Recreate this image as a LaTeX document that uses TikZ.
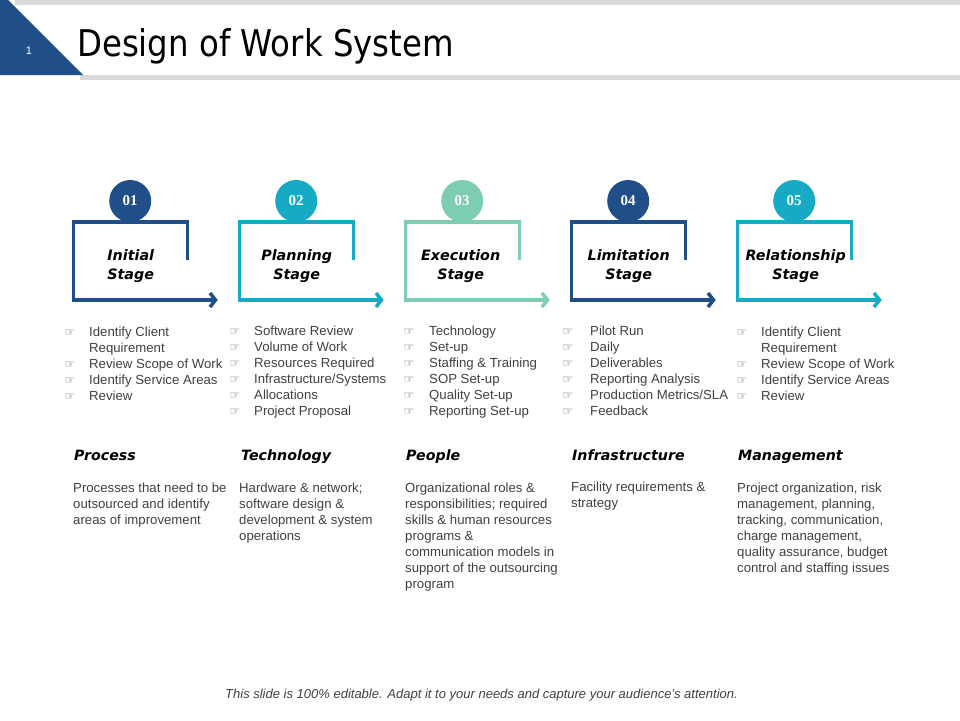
\documentclass[tikz,border=0pt]{standalone}
\usepackage{fontspec}
\setmainfont{Liberation Sans}
\newfontfamily\titlefont[FakeStretch=0.88]{DejaVu Sans}
\newfontfamily\stagefont{DejaVu Sans}
\newfontfamily\numfont{Liberation Serif}
\newfontfamily\iconfont{DejaVu Sans}
\usetikzlibrary{arrows.meta}
\definecolor{dblue}{RGB}{31,78,137}
\definecolor{cteal}{RGB}{23,170,197}
\definecolor{cmint}{RGB}{125,204,180}
\definecolor{txtgray}{RGB}{64,64,64}
\definecolor{bargray}{RGB}{217,217,217}
\definecolor{icongray}{RGB}{95,95,95}
\newcommand\bhand{\strut{\iconfont\fontsize{12}{12}\selectfont\char"261E}}
\tikzset{
  stagebox/.style={line width=3.5pt, line join=miter, line cap=butt, -{Straight Barb[length=5.5pt,width=14pt]}},
  numcirc/.style={circle, minimum size=42pt, inner sep=0pt, text=white, font=\numfont\bfseries\fontsize{15}{15}\selectfont},
  stagelabel/.style={align=center, anchor=north, inner sep=0pt, font=\stagefont\bfseries\itshape\fontsize{14.3}{19}\selectfont},
  bulltext/.style={align=left, anchor=north west, inner sep=0pt, text=txtgray, font=\fontsize{13.2}{16}\selectfont},
  bullicon/.style={align=center, anchor=north, inner sep=0pt, text=icongray, font=\fontsize{13.2}{16}\selectfont},
  heading/.style={anchor=base west, inner sep=0pt, font=\stagefont\bfseries\itshape\fontsize{14.2}{14}\selectfont},
}
\begin{document}
\begin{tikzpicture}[x=1pt,y=-1pt]
\useasboundingbox (0,0) rectangle (960,720);
% header
\fill[bargray] (15,0) rectangle (960,4.5);
\fill[bargray] (80,75) rectangle (960,80);
\fill[dblue] (0,0) -- (8,0) -- (83,75) -- (0,75) -- cycle;
\node[text=white, inner sep=0pt, font=\fontsize{11}{11}\selectfont] (pg) at (29,51) {1};
\node[anchor=base west, inner sep=0pt, font=\titlefont\fontsize{36.8}{40}\selectfont] (title) at (77,56) {Design of Work System};
% stages
\foreach \i/\col/\num/\lab/\dx in {0/dblue/01/{Initial\\Stage}/57, 1/cteal/02/{Planning\\Stage}/57, 2/cmint/03/{Execution\\Stage}/55, 3/dblue/04/{Limitation\\Stage}/57, 4/cteal/05/{Relationship\\Stage}/58}{
  \pgfmathsetmacro\L{73.7+166*\i}
  \draw[stagebox, draw=\col] ({\L+114},260) -- ({\L+114},222) -- (\L,222) -- (\L,300) -- ({\L+144},300);
  \node[numcirc, fill=\col] (c\i) at ({\L+56.5},201) {\num};
  \node[stagelabel] (s\i) at ({\L+\dx},246.7) {\strut\lab};
}
% bullets
\node[bullicon] (i1) at (70,325.3) {\bhand\\\strut\\\bhand\\\bhand\\\bhand};
\node[bulltext] (b1) at (89,325.3) {\strut Identify Client\\Requirement\\Review  Scope of Work\\Identify Service  Areas\\Review};
\node[bullicon] (i2) at (235,324.3) {\bhand\\\bhand\\\bhand\\\bhand\\\bhand\\\bhand};
\node[bulltext] (b2) at (254,324.3) {\strut Software  Review\\Volume of Work\\Resources Required\\Infrastructure/Systems\\Allocations\\Project Proposal};
\node[bullicon] (i3) at (409,324.3) {\bhand\\\bhand\\\bhand\\\bhand\\\bhand\\\bhand};
\node[bulltext] (b3) at (429,324.3) {\strut Technology\\Set-up\\Staffing \& Training\\SOP Set-up\\Quality Set-up\\Reporting  Set-up};
\node[bullicon] (i4) at (568,324.3) {\bhand\\\bhand\\\bhand\\\bhand\\\bhand\\\bhand};
\node[bulltext] (b4) at (590,324.3) {\strut Pilot Run\\Daily\\Deliverables\\Reporting  Analysis\\Production Metrics/SLA\\Feedback};
\node[bullicon] (i5) at (742,325.3) {\bhand\\\strut\\\bhand\\\bhand\\\bhand};
\node[bulltext] (b5) at (761,325.3) {\strut Identify Client\\Requirement\\Review  Scope of Work\\Identify Service  Areas\\Review};
% headings
\node[heading] (h1) at (74,460) {Process};
\node[heading] (h2) at (241,460) {Technology};
\node[heading] (h3) at (406,460) {People};
\node[heading] (h4) at (572,460) {Infrastructure};
\node[heading] (h5) at (738,460) {Management};
% descriptions
\node[bulltext] (d1) at (73,481.3) {\strut Processes that need to be\\outsourced and identify\\areas of improvement};
\node[bulltext] (d2) at (239,481.3) {\strut Hardware  \& network;\\software  design \&\\development  \& system\\operations};
\node[bulltext] (d3) at (405,481.3) {\strut Organizational roles \&\\responsibilities; required\\skills \& human resources\\programs \&\\communication models in\\support of the outsourcing\\program};
\node[bulltext] (d4) at (571,480.3) {\strut Facility requirements  \&\\strategy};
\node[bulltext] (d5) at (737,481.3) {\strut Project organization, risk\\management,  planning,\\tracking, communication,\\charge management,\\quality assurance, budget\\control and staffing issues};
% footer
\node[text=txtgray, inner sep=0pt, font=\itshape\fontsize{13}{14}\selectfont] (foot) at (481.5,695) {This slide is 100\% editable. Adapt it to your  needs and capture  your  audience's attention.};
\end{tikzpicture}
\end{document}
